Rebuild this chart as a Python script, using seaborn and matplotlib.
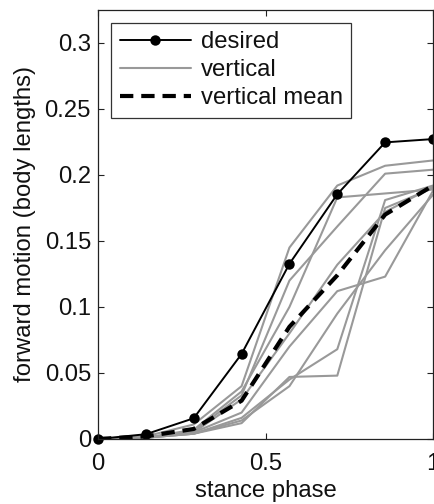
import numpy as np
import pandas as pd
import matplotlib
matplotlib.use("Agg")
import matplotlib.pyplot as plt
from matplotlib.lines import Line2D
import seaborn as sns

# stance phase samples
phase = [0, 1/7, 2/7, 3/7, 4/7, 5/7, 6/7, 1]

# commanded forward motion (body lengths)
desired = [0, 0.0036, 0.0157, 0.0644, 0.1327, 0.1854, 0.2247, 0.2272]

# measured forward motion for individual vertical trials
vertical_1 = [0, 0.002, 0.011, 0.040, 0.145, 0.192, 0.207, 0.211]
vertical_2 = [0, 0.001, 0.007, 0.036, 0.100, 0.183, 0.186, 0.189]
vertical_3 = [0, 0.001, 0.006, 0.033, 0.120, 0.161, 0.201, 0.204]
vertical_4 = [0, 0.001, 0.004, 0.012, 0.047, 0.048, 0.175, 0.190]
vertical_5 = [0, 0.001, 0.005, 0.020, 0.070, 0.112, 0.123, 0.188]
vertical_6 = [0, 0.001, 0.004, 0.016, 0.045, 0.068, 0.181, 0.192]
vertical_7 = [0, 0.001, 0.005, 0.030, 0.080, 0.132, 0.172, 0.191]
vertical_8 = [0, 0.001, 0.004, 0.014, 0.040, 0.095, 0.143, 0.185]

# mean over vertical trials
vertical_mean = [0, 0.002, 0.0076, 0.029, 0.085, 0.124, 0.170, 0.192]

y_ticks = [0, 0.05, 0.1, 0.15, 0.2, 0.25, 0.3]
y_tick_labels = ["0", "0.05", "0.1", "0.15", "0.2", "0.25", "0.3"]
x_ticks = [0, 0.5, 1]
x_tick_labels = ["0", "0.5", "1"]

trials = [vertical_1, vertical_2, vertical_3, vertical_4,
          vertical_5, vertical_6, vertical_7, vertical_8]
vert_df = pd.DataFrame({
    "phase": np.tile(phase, len(trials)),
    "motion": np.concatenate(trials),
    "trial": np.repeat(np.arange(len(trials)), len(phase)),
})
mean_df = pd.DataFrame({"phase": phase, "motion": vertical_mean})
des_df = pd.DataFrame({"phase": phase, "motion": desired})

sns.set_theme(style="white")
plt.rcParams["font.family"] = ["Liberation Sans", "DejaVu Sans"]
fs = 17.2
plt.rcParams["font.size"] = fs

fig = plt.figure(figsize=(4.35, 5.04), dpi=100)
ax = fig.add_axes([0.2253, 0.1290, 0.7701, 0.8512])

gray = "#999999"
sns.lineplot(data=vert_df, x="phase", y="motion", units="trial",
             estimator=None, color=gray, linewidth=1.5, ax=ax, legend=False)
sns.lineplot(data=mean_df, x="phase", y="motion", color="black",
             linewidth=3.0, dashes=False, ax=ax, legend=False)
ax.lines[-1].set_dashes((3.2, 1.9))
sns.lineplot(data=des_df, x="phase", y="motion", color="black",
             linewidth=1.4, marker="o", markersize=7.5, markeredgewidth=0,
             ax=ax, legend=False)
ax.lines[-1].set_clip_on(False)

ax.set_xlim(0, 1)
ax.set_ylim(0, 0.325)
ax.set_xticks(x_ticks)
ax.set_xticklabels(x_tick_labels)
ax.set_yticks(y_ticks)
ax.set_yticklabels(y_tick_labels)
ax.tick_params(direction="in", length=4, width=0.8, color="#222222",
               top=True, right=True, bottom=True, left=True,
               labelsize=fs, pad=5, labelcolor="#111111")
ax.tick_params(axis="x", pad=10)
for sp in ax.spines.values():
    sp.set_color("#222222")
    sp.set_linewidth(0.9)

ax.set_xlabel("stance phase", fontsize=fs, labelpad=4, color="#111111")
ax.set_ylabel("forward motion (body lengths)", fontsize=fs, labelpad=6,
              color="#111111")

handles = [
    Line2D([], [], color="black", linewidth=1.4, marker="o", markersize=7.5,
           markeredgewidth=0),
    Line2D([], [], color=gray, linewidth=1.5),
    Line2D([], [], color="black", linewidth=3.0, dashes=(3.2, 1.9)),
]
leg = ax.legend(handles, ["desired", "vertical", "vertical mean"],
                loc="upper left", fontsize=fs, frameon=True,
                fancybox=False, framealpha=1, edgecolor="#333333",
                handlelength=3.0, handletextpad=0.4, borderpad=0.35,
                labelspacing=0.25, borderaxespad=0.55, numpoints=1)
leg.get_frame().set_linewidth(0.9)
for t in leg.get_texts():
    t.set_color("#111111")

fig.savefig("out.png", dpi=100)
